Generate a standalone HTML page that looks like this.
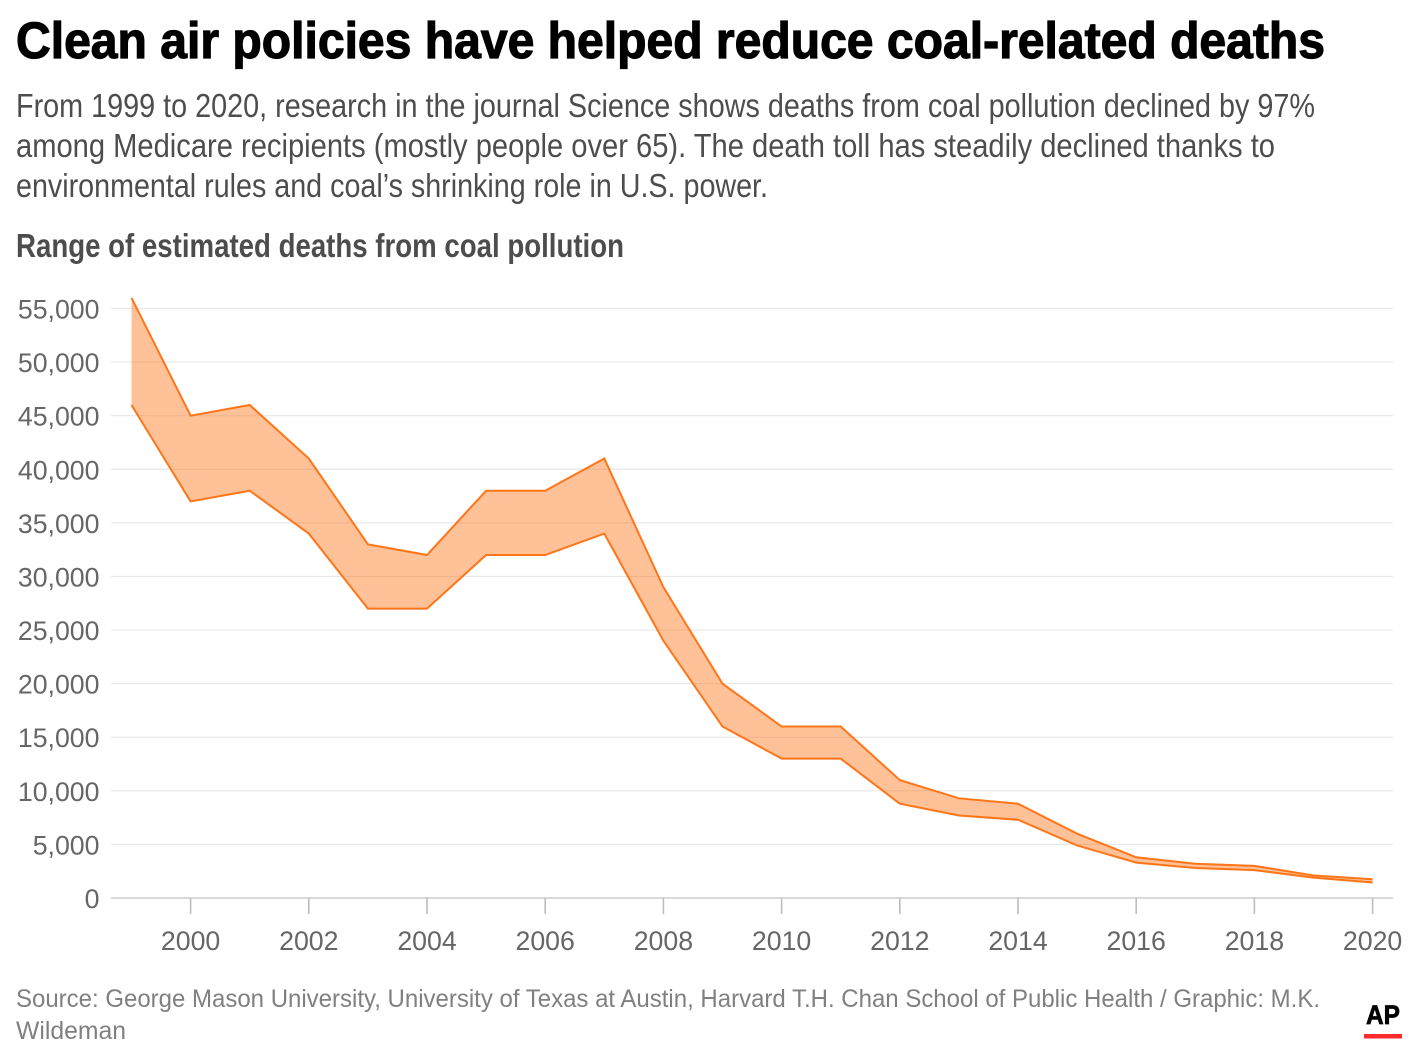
<!DOCTYPE html>
<html lang="en">
<head>
<meta charset="utf-8">
<title>Clean air policies have helped reduce coal-related deaths</title>
<style>
  html, body { margin: 0; padding: 0; background: #fff; }
  body { width: 1422px; height: 1052px; overflow: hidden; }
  svg { display: block; font-family: "Liberation Sans", sans-serif; }
</style>
</head>
<body>
<svg id="chart" xmlns="http://www.w3.org/2000/svg" width="1422" height="1052" viewBox="0 0 1422 1052">
  <text x="16" y="58" font-size="51" font-weight="700" fill="#000" stroke="#000" stroke-width="1.2" textLength="1309" lengthAdjust="spacingAndGlyphs">Clean air policies have helped reduce coal-related deaths</text>
  <g font-size="33" fill="#4d4d4d">
    <text x="16" y="117" textLength="1299" lengthAdjust="spacingAndGlyphs">From 1999 to 2020, research in the journal Science shows deaths from coal pollution declined by 97%</text>
    <text x="16" y="157" textLength="1259" lengthAdjust="spacingAndGlyphs">among Medicare recipients (mostly people over 65). The death toll has steadily declined thanks to</text>
    <text x="16" y="197" textLength="752" lengthAdjust="spacingAndGlyphs">environmental rules and coal’s shrinking role in U.S. power.</text>
  </g>
  <text x="16" y="257" font-size="33" font-weight="700" fill="#4d4d4d" textLength="608" lengthAdjust="spacingAndGlyphs">Range of estimated deaths from coal pollution</text>
  <g id="grid"></g>
  <g id="yLabels"></g>
  <g id="xAxis"></g>
  <g id="series"></g>
  <g font-size="25" fill="#808080">
    <text x="16" y="1007" textLength="1304" lengthAdjust="spacingAndGlyphs">Source: George Mason University, University of Texas at Austin, Harvard T.H. Chan School of Public Health / Graphic: M.K.</text>
    <text x="16" y="1039" textLength="110" lengthAdjust="spacingAndGlyphs">Wildeman</text>
  </g>
  <g>
    <text x="1366" y="1024" font-size="27" font-weight="700" fill="#000" stroke="#000" stroke-width="0.7" textLength="34" lengthAdjust="spacingAndGlyphs">AP</text>
    <rect x="1364" y="1034" width="38" height="4.5" fill="#ff2a2a"></rect>
  </g>
</svg>
<script>
const years = [1999,2000,2001,2002,2003,2004,2005,2006,2007,2008,2009,2010,2011,2012,2013,2014,2015,2016,2017,2018,2019,2020];
const upperDeaths = [56000,45000,46000,41000,33000,32000,38000,38000,41000,29000,20000,16000,16000,11000,9300,8800,6000,3800,3200,3000,2100,1750];
const lowerDeaths = [46000,37000,38000,34000,27000,27000,32000,32000,34000,24000,16000,13000,13000,8800,7700,7300,4900,3300,2800,2600,1900,1450];
const yTicks = [0,5000,10000,15000,20000,25000,30000,35000,40000,45000,50000,55000];
const xTicks = [2000,2002,2004,2006,2008,2010,2012,2014,2016,2018,2020];

const NS = 'http://www.w3.org/2000/svg';
function xScale(year) { return 190.6 + (year - 2000) * (1372.6 - 190.6) / 20; }
function yScale(value) { return 898 - value * (898 - 308.5) / 55000; }
function make(tag, attrs, parent) {
  const el = document.createElementNS(NS, tag);
  for (const k in attrs) el.setAttribute(k, attrs[k]);
  parent.appendChild(el);
  return el;
}
const gridG = document.getElementById('grid');
const yG = document.getElementById('yLabels');
const xG = document.getElementById('xAxis');
const seriesG = document.getElementById('series');

yTicks.forEach(function (v) {
  const line = make('line', { x1: 111, x2: 1393, y1: yScale(v), y2: yScale(v),
    stroke: v === 0 ? '#d4d4d4' : '#e8e8e8', 'stroke-width': v === 0 ? 1.8 : 1.2 }, gridG);
  
  
  const label = make('text', { x: 99.5, y: yScale(v) + 10, 'text-anchor': 'end', 'font-size': 26.7, fill: '#666' }, yG);
  
  
  label.textContent = v.toLocaleString('en-US');
});

xTicks.forEach(function (yr) {
  const tick = make('line', { x1: xScale(yr), x2: xScale(yr), y1: 898, y2: 914, stroke: '#bdbdbd', 'stroke-width': 1.6 }, xG);
  
  
  const label = make('text', { x: xScale(yr), y: 950, 'text-anchor': 'middle', 'font-size': 26.7, fill: '#666' }, xG);
  
  
  label.textContent = yr;
});

function pts(values) {
  return values.map(function (v, i) { return xScale(years[i]).toFixed(2) + ',' + yScale(v).toFixed(2); });
}
const up = pts(upperDeaths);
const low = pts(lowerDeaths);
const band = make('polygon', { points: up.concat(low.slice().reverse()).join(' '), fill: '#ff7518', 'fill-opacity': 0.45, stroke: 'none' }, seriesG);


const upperLine = make('polyline', { points: up.join(' '), fill: 'none', stroke: '#ff7518', 'stroke-width': 2 }, seriesG);


const lowerLine = make('polyline', { points: low.join(' '), fill: 'none', stroke: '#ff7518', 'stroke-width': 2 }, seriesG);


</script>
</body>
</html>
